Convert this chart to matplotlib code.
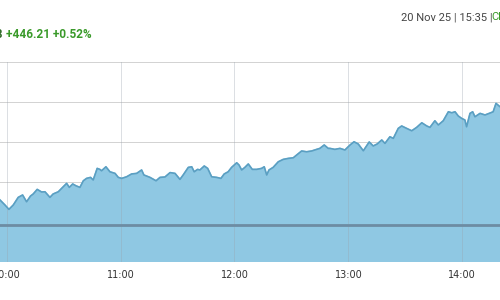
import matplotlib
matplotlib.use("Agg")
import matplotlib.pyplot as plt
import numpy as np

plt.rcParams["font.family"] = ["DejaVu Sans"]

# minutes after 10:00, index level
minutes = [-3.5, -0.9, 1.2, 3.5, 6.1, 8.4, 10.5, 12.6, 14.0, 16.1, 18.4, 20.2, 22.8, 24.5,
           27.2, 29.8, 31.6, 33.0, 34.8, 36.5, 38.6, 40.4, 42.1, 44.2, 45.6, 47.7, 49.1,
           50.0, 52.3, 54.4, 57.1, 58.8, 60.6, 63.2, 65.8, 68.5, 71.1, 72.3, 75.5, 78.7,
           80.8, 83.4, 86.1, 88.7, 91.3, 93.0, 95.7, 97.5, 98.8, 100.6, 101.8, 104.1,
           105.9, 108.0, 110.6, 112.9, 114.6, 116.7, 118.5, 121.2, 122.4, 123.8, 125.5,
           127.3, 129.4, 131.7, 134.3, 135.7, 137.0, 138.2, 140.4, 143.1, 145.7, 148.4,
           151.0, 152.8, 155.4, 158.0, 160.7, 163.3, 165.0, 167.3, 169.4, 170.3, 172.9,
           175.6, 178.2, 180.9, 183.0, 185.2, 187.9, 191.0, 193.1, 195.2, 197.6, 199.3,
           201.9, 203.7, 206.3, 208.1, 210.7, 213.4, 216.0, 218.7, 221.3, 223.0, 225.6,
           227.4, 230.0, 232.7, 234.5, 236.2, 237.9, 239.7, 241.4, 242.3, 244.1, 245.5,
           246.7, 249.4, 252.0, 254.2, 256.3, 257.8, 259.9, 262.0]
level = [85310, 85285, 85263, 85285, 85323, 85335, 85301, 85330, 85340, 85363, 85350, 85351,
         85323, 85340, 85351, 85376, 85393, 85373, 85390, 85381, 85373, 85406, 85418, 85423,
         85410, 85468, 85463, 85456, 85476, 85451, 85443, 85423, 85418, 85426, 85440, 85443,
         85460, 85435, 85423, 85406, 85423, 85425, 85447, 85443, 85413, 85435, 85473, 85476,
         85451, 85463, 85460, 85480, 85468, 85426, 85423, 85418, 85440, 85451, 85473, 85496,
         85485, 85460, 85473, 85490, 85463, 85463, 85468, 85476, 85435, 85460, 85473, 85501,
         85513, 85518, 85521, 85535, 85555, 85551, 85555, 85563, 85568, 85585, 85568, 85568,
         85563, 85568, 85560, 85585, 85601, 85590, 85556, 85600, 85580, 85590, 85610, 85593,
         85626, 85618, 85668, 85680, 85668, 85656, 85673, 85696, 85680, 85673, 85706, 85685,
         85706, 85751, 85746, 85751, 85730, 85718, 85710, 85676, 85743, 85751, 85726, 85743,
         85735, 85743, 85751, 85793, 85776, 85770]
prev_close = 85186.47
hour_ticks = [0, 60, 120, 180, 240]
hour_labels = ["10:00", "11:00", "12:00", "13:00", "14:00"]
y_grid = [85200, 85400, 85600, 85800, 86000]

fig = plt.figure(figsize=(5, 3), dpi=100)
ax = fig.add_axes([0, 0.1267, 1, 0.6667])

ax.fill_between(minutes, level, 85000, color="#8fc8e3", zorder=1)
ax.plot(minutes, level, color="#5b9fc2", lw=1.2, zorder=3)
ax.axhline(prev_close, color="#6d8ca3", lw=2, zorder=4)

for t in hour_ticks:
    ax.axvline(t, color="#9aa4ad", lw=0.7, alpha=0.35, zorder=2)
for g in y_grid:
    ax.axhline(g, color="#d2d2d2", lw=0.7, zorder=0.5, clip_on=False)

ax.set_xlim(-3.5, 259.9)
ax.set_ylim(85000, 86000)
ax.set_xticks(hour_ticks)
ax.set_xticklabels(hour_labels, fontsize=7, color="#333333")
ax.set_yticks([])
ax.tick_params(axis="x", length=0, pad=6)
for s in ax.spines.values():
    s.set_visible(False)

fig.text(3.5 / 500, 1 - 34 / 300, "85,632.68", ha="right", va="center", fontsize=8.5,
         color="#2f6b28", family="Roboto", fontweight="bold")
fig.text(6 / 500, 1 - 34 / 300, "+446.21 +0.52%", ha="left", va="center", fontsize=8.5,
         color="#3a9a2a", family="Roboto", fontweight="bold")
fig.text(401 / 500, 1 - 17 / 300, "20 Nov 25 | 15:35 |", ha="left", va="center",
         fontsize=8, color="#444444", family="Roboto")
fig.text(491 / 500, 1 - 17 / 300, "Closed", ha="left", va="center",
         fontsize=8, color="#3a9a2a", family="Roboto")

fig.savefig("out.png", dpi=100)
